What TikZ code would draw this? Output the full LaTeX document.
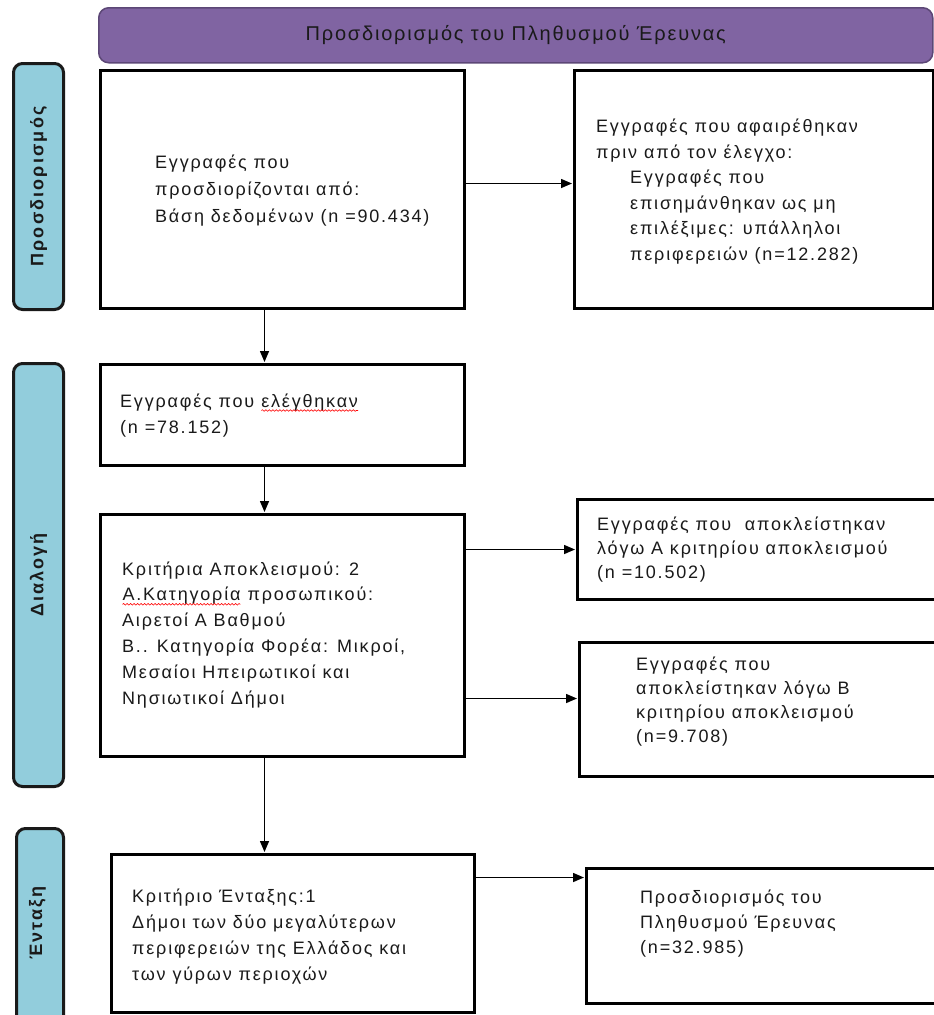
\documentclass[tikz,border=0pt]{standalone}
\usepackage{fontspec}
\setmainfont{Liberation Sans}[LetterSpace=10]
\usetikzlibrary{arrows.meta,decorations.pathmorphing}
\definecolor{banfill}{HTML}{8064A2}
\definecolor{bandraw}{HTML}{5C4776}
\definecolor{sidefill}{HTML}{92CDDC}
\definecolor{ink}{HTML}{1A1A1A}
\newcommand\redwave[1]{\tikz[baseline=(w.base)]{\node[inner sep=0pt,outer sep=0pt,anchor=base west,draw=none,fill=none] (w) {#1};\draw[red, line width=0.6pt, decorate, decoration={snake, amplitude=0.8pt, segment length=3.5pt}] ([yshift=-3.5pt]w.base west) -- ([yshift=-3.5pt]w.base east);}}
\begin{document}
\begin{tikzpicture}[x=1pt,y=1pt,
  box/.style={draw=black, line width=3pt, fill=white, inner sep=0pt, anchor=north west},
  side/.style={draw=ink, line width=3pt, fill=sidefill, rounded corners=9pt, inner sep=0pt, anchor=north west},
  sidetext/.style={rotate=90, font=\fontsize{18}{20}\selectfont\bfseries\addfontfeature{LetterSpace=12}, text=ink, inner sep=0pt},
  banner/.style={draw=bandraw, line width=1.5pt, fill=banfill, rounded corners=10pt, inner sep=0pt, anchor=north west, font=\fontsize{20}{22}\selectfont\addfontfeature{LetterSpace=9}, text=ink},
  txt/.style={anchor=base west, align=left, inner sep=0pt, font=\fontsize{18}{25.5}\selectfont, text=ink},
  arr/.style={line width=1.5pt, -{Triangle[length=11pt,width=9pt]}, shorten >=1pt}]
\useasboundingbox (0,0) rectangle (934,-1015);
\clip (0,0) rectangle (934,-1015);

% banner
\node[banner, minimum width=834, minimum height=55] (T) at (98,-7) {Προσδιορισμός του Πληθυσμού Έρευνας};

% side labels
\node[side, minimum width=50, minimum height=246] (S1) at (12,-62) {};
\node[sidetext] (L1) at (S1.center) {Προσδιορισμός};
\node[side, minimum width=50, minimum height=423] (S2) at (12,-362) {};
\node[sidetext] (L2) at (S2.center) {Διαλογή};
\node[side, minimum width=47, minimum height=230] (S3) at (15,-827) {};
\node[sidetext] (L3) at (37.5,-923) {Ένταξη};

% boxes
\node[box, minimum width=364, minimum height=238] (A) at (99,-69) {};
\node[box, minimum width=359, minimum height=238] (B) at (573,-69) {};
\node[box, minimum width=364, minimum height=101] (C) at (99,-363) {};
\node[box, minimum width=364, minimum height=242] (D) at (99,-513) {};
\node[box, minimum width=380, minimum height=100] (E) at (576,-498) {};
\node[box, minimum width=380, minimum height=134] (F) at (578,-641) {};
\node[box, minimum width=363, minimum height=158] (G) at (110,-853) {};
\node[box, minimum width=380, minimum height=135] (H) at (585,-867) {};

% texts (anchored at the baseline of their last line)
\node[txt, font=\fontsize{18}{27}\selectfont] (tA) at (155,-222) {Εγγραφές που\\προσδιορίζονται από:\\Βάση δεδομένων (n =90.434)};
\node[txt] (tB) at (596,-260) {Εγγραφές που αφαιρέθηκαν\\πριν από τον έλεγχο:\\\hspace*{34pt}Εγγραφές που\\\hspace*{34pt}επισημάνθηκαν ως μη\\\hspace*{34pt}επιλέξιμες: υπάλληλοι\\\hspace*{34pt}περιφερειών (n=12.282)};
\node[txt, font=\fontsize{18}{26}\selectfont] (tC) at (120,-433) {Εγγραφές που \redwave{ελέγθηκαν}\\(n =78.152)};
\node[txt, font=\fontsize{18}{25.8}\selectfont] (tD) at (122,-704) {Κριτήρια Αποκλεισμού: 2\\\redwave{Α.Κατηγορία} προσωπικού:\\Αιρετοί Α Βαθμού\\Β.. Κατηγορία Φορέα: Μικροί,\\Μεσαίοι Ηπειρωτικοί και\\Νησιωτικοί Δήμοι};
\node[txt, font=\fontsize{18}{24}\selectfont] (tE) at (597,-578) {Εγγραφές που \ αποκλείστηκαν\\λόγω Α κριτηρίου αποκλεισμού\\(n =10.502)};
\node[txt, font=\fontsize{18}{24}\selectfont] (tF) at (636,-742) {Εγγραφές που\\αποκλείστηκαν λόγω Β\\κριτηρίου αποκλεισμού\\(n=9.708)};
\node[txt, font=\fontsize{18}{26}\selectfont] (tG) at (132,-980) {Κριτήριο Ένταξης:1\\Δήμοι των δύο μεγαλύτερων\\περιφερειών της Ελλάδος και\\των γύρων περιοχών};
\node[txt, font=\fontsize{18}{25}\selectfont] (tH) at (640,-953) {Προσδιορισμός του\\Πληθυσμού Έρευνας\\(n=32.985)};

% connectors
\draw[arr] ([yshift=6]A.east) -- ([yshift=6]B.west);
\draw[arr] ([xshift=-18]A.south) -- ([xshift=-18]C.north);
\draw[arr] ([xshift=-18]C.south) -- ([xshift=-18]D.north);
\draw[arr] (D.east |- E.west) -- (E.west);
\coordinate (f1) at ([yshift=11]F.west);
\draw[arr] (D.east |- f1) -- (f1);
\draw[arr] ([xshift=-18]D.south) -- ([xshift=-28.5]G.north);
\coordinate (h1) at ([yshift=58.5]H.west);
\draw[arr] (G.east |- h1) -- (h1);
\end{tikzpicture}
\end{document}
